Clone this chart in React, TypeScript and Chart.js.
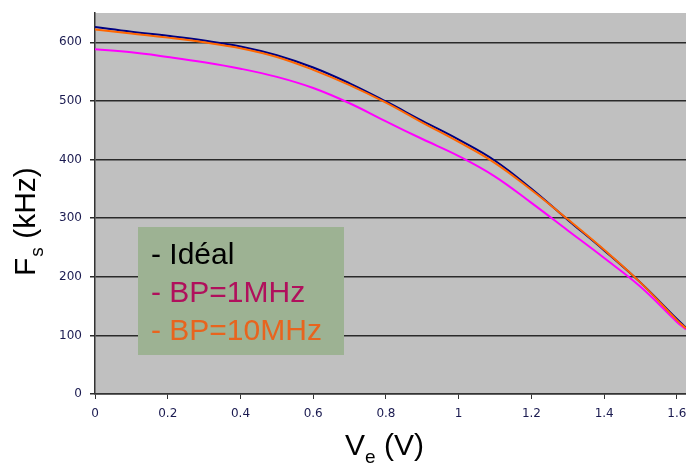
import React, { useEffect, useRef } from "react";
import { Chart, registerables } from "chart.js";

Chart.register(...registerables);

const xValues = [0, 0.1, 0.2, 0.3, 0.4, 0.5, 0.6, 0.7, 0.8, 0.9, 1.0, 1.1, 1.2, 1.3, 1.4, 1.5, 1.6, 1.625];
const ideal = [626, 618, 611, 603, 593, 578, 557, 530, 499, 466, 434, 398, 350, 297, 245, 190, 128, 113];
const bp1MHz = [588, 583, 575, 566, 555, 541, 522, 496, 465, 435, 406, 371, 326, 279, 232, 183, 123, 110];
const bp10MHz = [622, 615, 608, 600, 590, 575, 553, 527, 497, 463, 430, 394, 348, 298, 246, 190, 126, 112];

const xTicks = [0, 0.2, 0.4, 0.6, 0.8, 1, 1.2, 1.4, 1.6];
const yTicks = [0, 100, 200, 300, 400, 500, 600];

const legendItems = [
  { text: "- Idéal", color: "#000000" },
  { text: "- BP=1MHz", color: "#B0105C" },
  { text: "- BP=10MHz", color: "#E8641E" },
];

const toPoints = (ys: number[]) => xValues.map((x, i) => ({ x, y: ys[i] }));

const bgPlugin = {
  id: "plotBg",
  beforeDraw(chart: any) {
    const { ctx, chartArea } = chart;
    ctx.save();
    ctx.fillStyle = "#C0C0C0";
    ctx.fillRect(chartArea.left, chartArea.top, chartArea.right - chartArea.left, chartArea.bottom - chartArea.top);
    ctx.restore();
  },
};

const overlayPlugin = {
  id: "overlay",
  afterDraw(chart: any) {
    const { ctx, chartArea } = chart;
    ctx.save();
    // Legend box
    const bx = chartArea.left + 43;
    const by = chartArea.top + 214;
    ctx.fillStyle = "#9DB293";
    ctx.fillRect(bx, by, 206, 128);
    ctx.font = "30px 'Liberation Sans', Arial, sans-serif";
    ctx.textBaseline = "alphabetic";
    ctx.textAlign = "left";
    legendItems.forEach((it, i) => {
      ctx.fillStyle = it.color;
      ctx.fillText(it.text, bx + 13, by + 37 + i * 38);
    });

    // X title: V_e (V)
    const big = "30px 'Liberation Sans', Arial, sans-serif";
    const small = "19px 'Liberation Sans', Arial, sans-serif";
    ctx.fillStyle = "#000000";
    let x = 345;
    const base = 455;
    ctx.font = big;
    ctx.fillText("V", x, base);
    x += ctx.measureText("V").width;
    ctx.font = small;
    ctx.fillText("e", x, base + 8);
    x += ctx.measureText("e").width;
    ctx.font = big;
    ctx.fillText(" (V)", x, base);

    // Y title: F_s (kHz), rotated
    ctx.translate(35, 276);
    ctx.rotate(-Math.PI / 2);
    let yx = 0;
    ctx.font = big;
    ctx.fillText("F", yx, 0);
    yx += ctx.measureText("F").width;
    ctx.font = small;
    ctx.fillText("s", yx + 1, 8);
    yx += ctx.measureText("s").width + 1;
    ctx.font = big;
    ctx.fillText(" (kHz)", yx, 0);
    ctx.restore();
  },
};

export default function App() {
  const ref = useRef<HTMLCanvasElement | null>(null);
  useEffect(() => {
    document.body.style.margin = "0";
    if (!ref.current) return;
    const tickFont = { family: "'DejaVu Sans', sans-serif", size: 12 };
    const chart = new Chart(ref.current, {
      type: "line",
      data: {
        datasets: [
          { label: "BP=10MHz", data: toPoints(bp10MHz), borderColor: "#FF6600", borderWidth: 2, pointRadius: 0, tension: 0.4, order: 0 },
          { label: "Idéal", data: toPoints(ideal), borderColor: "#000080", borderWidth: 2, pointRadius: 0, tension: 0.4, order: 1 },
          { label: "BP=1MHz", data: toPoints(bp1MHz), borderColor: "#FF00FF", borderWidth: 2, pointRadius: 0, tension: 0.4, order: 2 },
        ],
      },
      options: {
        animation: false,
        responsive: true,
        maintainAspectRatio: false,
        layout: { padding: { top: 13, right: 0, left: 0, bottom: 0 } },
        plugins: { legend: { display: false }, tooltip: { enabled: false } },
        scales: {
          x: {
            type: "linear",
            min: 0,
            max: 1.625,
            afterBuildTicks: (s: any) => { s.ticks = xTicks.map((v) => ({ value: v })); },
            afterFit: (s: any) => { s.height = 70; s.paddingRight = 0; s.paddingLeft = 0; },
            ticks: {
              color: "#1a1a50",
              font: tickFont,
              padding: 8,
              maxRotation: 0,
              autoSkip: false,
              callback: (v: any) => String(Number(Number(v).toFixed(1))),
            },
            grid: { drawOnChartArea: false, drawTicks: true, tickLength: 5, color: "#333333", lineWidth: 1 },
            border: { display: true, color: "#333333", width: 1.5 },
          },
          y: {
            type: "linear",
            min: 0,
            max: 650,
            afterBuildTicks: (s: any) => { s.ticks = yTicks.map((v) => ({ value: v })); },
            afterFit: (s: any) => { s.width = 95; s.paddingTop = 0; s.paddingBottom = 0; },
            ticks: { color: "#1a1a50", font: tickFont, padding: 8, autoSkip: false },
            grid: { drawOnChartArea: true, drawTicks: true, tickLength: 5, color: "#2a2a2a", lineWidth: 1.5 },
            border: { display: true, color: "#333333", width: 1.5 },
          },
        },
      },
      plugins: [bgPlugin, overlayPlugin],
    } as any);
    return () => chart.destroy();
  }, []);
  return (
    <div style={{ position: "absolute", left: 0, top: 0, width: 686, height: 464, background: "#ffffff" }}>
      <canvas ref={ref} />
    </div>
  );
}
